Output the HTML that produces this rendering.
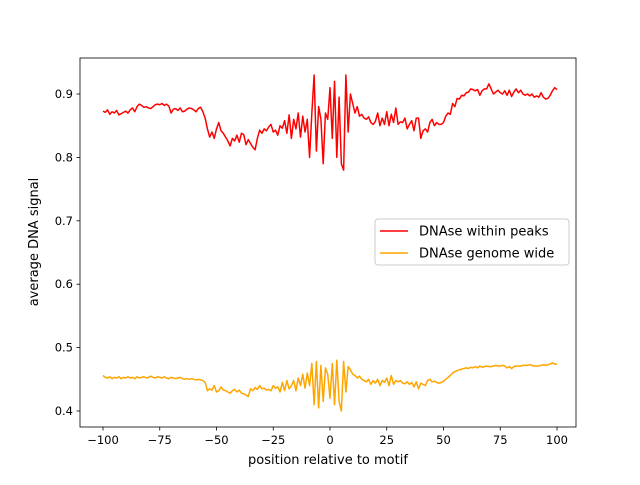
<!DOCTYPE html>
<html><head><meta charset="utf-8"><style>
body{margin:0;background:#fff;font-family:"Liberation Sans","DejaVu Sans",sans-serif}
</style></head><body>
<svg id="chart" width="640" height="480" xmlns="http://www.w3.org/2000/svg" font-family="'DejaVu Sans','Liberation Sans',sans-serif"></svg>
<script>
const xTicks=[-100,-75,-50,-25,0,25,50,75,100];
const yTicks=[0.4,0.5,0.6,0.7,0.8,0.9];
const seriesNames=["DNAse within peaks","DNAse genome wide"];
const redVals=[].concat(
[0.873,0.871,0.875,0.868,0.872,0.870,0.874,0.867,0.869,0.871,0.873,0.870,0.875,0.878,0.872,0.880,0.884,0.882,0.879,0.880,0.878,0.877,0.880,0.883,0.884,0.883,0.885,0.882,0.884,0.881,0.870,0.876,0.877,0.874,0.878,0.872,0.873,0.876,0.878,0.877,0.875,0.872,0.877,0.879,0.872],
[0.862,0.845,0.832,0.840,0.830,0.845,0.855,0.842,0.838,0.832,0.826,0.818,0.830,0.826,0.835,0.824,0.838,0.836,0.820,0.828,0.822,0.816,0.812,0.830,0.843],
[0.838,0.845,0.842,0.848,0.852,0.840,0.843,0.835,0.850,0.846,0.858,0.838,0.867,0.830,0.860,0.845,0.870,0.832,0.865,0.840],
[0.86,0.80,0.87,0.93,0.81,0.88,0.86,0.79,0.87,0.86,0.91,0.83,0.92,0.80,0.895,0.79,0.78,0.93,0.84,0.90,0.885],
[0.87,0.88,0.865,0.868,0.862,0.860,0.864,0.855,0.852,0.857,0.870,0.850,0.862,0.852,0.872,0.850,0.868,0.855,0.878,0.852,0.856,0.855,0.862,0.845,0.852,0.858,0.842,0.862,0.862,0.830,0.842,0.845,0.840,0.855,0.860,0.850,0.855,0.852,0.852],
[0.855,0.865,0.870,0.868,0.885,0.880,0.893,0.892,0.898,0.897,0.902,0.903,0.908,0.907,0.905,0.907,0.898,0.905,0.908,0.908,0.916,0.908,0.900,0.903,0.906,0.902,0.900,0.905,0.898,0.906,0.896,0.903,0.908,0.902,0.906,0.900,0.898,0.900,0.897,0.900,0.895,0.897,0.895,0.902,0.895,0.892,0.893,0.898,0.905,0.910,0.907]);
const orangeVals=[].concat(
[0.456,0.453,0.452,0.454,0.451,0.453,0.452,0.454,0.451,0.453,0.452,0.454,0.452,0.453,0.451,0.454,0.452,0.453,0.454,0.452,0.453,0.455,0.453,0.452,0.454,0.453,0.452,0.454,0.452,0.451,0.453,0.452,0.451,0.452,0.453,0.451,0.450,0.451,0.450,0.451,0.450,0.449,0.450,0.449,0.448],
[0.445,0.432,0.435,0.433,0.440,0.430,0.432,0.438,0.433,0.432,0.430,0.428,0.432,0.434,0.430,0.433,0.428,0.427,0.425,0.423,0.435,0.432,0.437,0.434,0.440],
[0.435,0.436,0.433,0.434,0.432,0.440,0.436,0.438,0.430,0.445,0.432,0.448,0.435,0.440,0.448,0.432,0.452,0.440,0.458,0.436],
[0.46,0.44,0.475,0.41,0.478,0.405,0.472,0.415,0.468,0.458,0.42,0.475,0.41,0.48,0.415,0.40,0.478,0.43,0.47,0.465,0.458],
[0.456,0.452,0.455,0.450,0.448,0.446,0.450,0.442,0.448,0.444,0.450,0.440,0.448,0.445,0.452,0.440,0.456,0.442,0.448,0.446,0.448,0.444,0.443,0.446,0.442,0.445,0.438,0.446,0.435,0.444,0.442,0.440,0.448,0.450,0.446,0.447,0.445,0.444,0.445],
[0.447,0.450,0.453,0.456,0.460,0.462,0.464,0.465,0.466,0.467,0.468,0.467,0.469,0.468,0.470,0.468,0.471,0.469,0.470,0.471,0.470,0.470,0.471,0.472,0.471,0.471,0.472,0.471,0.468,0.470,0.467,0.470,0.471,0.471,0.471,0.472,0.472,0.472,0.473,0.472,0.471,0.471,0.471,0.472,0.473,0.472,0.473,0.474,0.476,0.474,0.474]);

const svg=document.getElementById('chart');const NS='http://www.w3.org/2000/svg';
const L=80,R=576,T=58,B=427;
const xs=v=>103+(v+100)*(557-103)/200;
const ys=v=>411-(v-0.4)*(411-94)/0.5;
function mk(tag,attrs,parent){const e=document.createElementNS(NS,tag);for(const k in attrs)e.setAttribute(k,attrs[k]);(parent||svg).appendChild(e);return e;}
function txt(s,attrs){const e=mk('text',attrs);e.textContent=s;return e;}
function line(vals,color,name){
  const pts=vals.map((v,i)=>xs(-100+i).toFixed(2)+','+ys(v).toFixed(2)).join(' ');
  const p=mk('polyline',{points:pts,fill:'none',stroke:color,'stroke-width':1.5,'stroke-linejoin':'round'});
  
  
}
line(redVals,'#ff0000','series-within-peaks');
line(orangeVals,'#ffa500','series-genome-wide');
const frame=mk('rect',{x:L,y:T,width:R-L,height:B-T,fill:'none',stroke:'#000','stroke-width':0.8});


xTicks.forEach(t=>{
  const x=xs(t);
  mk('line',{x1:x,x2:x,y1:B,y2:B+3.5,stroke:'#000','stroke-width':0.8});
  const e=txt(String(t).replace('-','−'),{x:x,y:B+17,'font-size':'11.5','text-anchor':'middle'});
  
  
});
yTicks.forEach(t=>{
  const y=ys(t);
  mk('line',{x1:L-3.5,x2:L,y1:y,y2:y,stroke:'#000','stroke-width':0.8});
  const e=txt(t.toFixed(1),{x:L-7,y:y+4,'font-size':'11.5','text-anchor':'end'});
  
  
});
const xl=txt('position relative to motif',{x:328,y:464,'font-size':'13','text-anchor':'middle'});


const yl=txt('average DNA signal',{x:0,y:0,'font-size':'13','text-anchor':'middle',transform:'translate(38,242) rotate(-90)'});


const lg=mk('g',{});


mk('rect',{x:375,y:219,width:194,height:46,rx:3,fill:'#fff',stroke:'#ccc','stroke-width':1},lg);
const colors=['#ff0000','#ffa500'];
seriesNames.forEach((n,i)=>{
  const y=231+i*22;
  mk('line',{x1:380,x2:408,y1:y,y2:y,stroke:colors[i],'stroke-width':1.5},lg);
  const e=mk('text',{x:419,y:y+4.5,'font-size':'13'},lg);e.textContent=n;
  
  
});
</script>
</body></html>
